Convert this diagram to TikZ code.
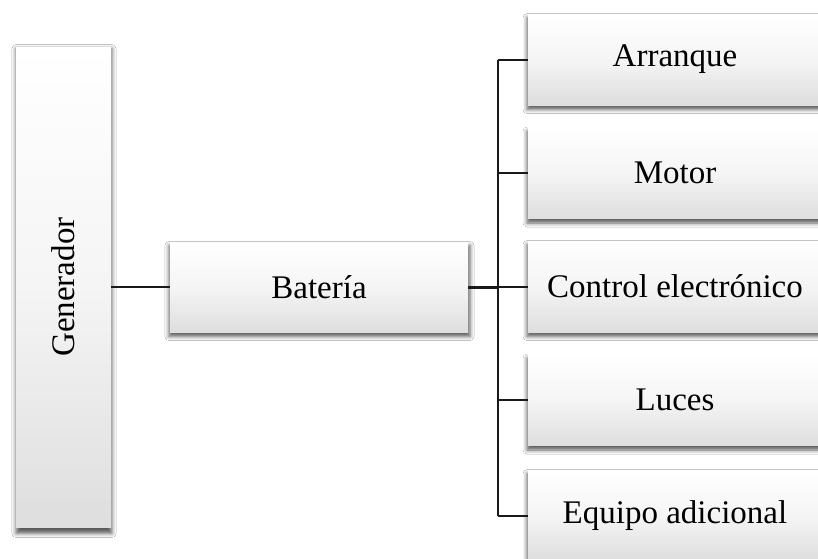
\documentclass[tikz,border=0pt]{standalone}
\usepackage{fontspec}
\setmainfont{Liberation Serif}
\usetikzlibrary{shadows.blur}
\begin{document}
\begin{tikzpicture}[x=1pt,y=-1pt,
  boxstyle/.style={rectangle, inner sep=0pt, outer sep=0pt,
    top color=white, bottom color=black!13, middle color=white!96!black,
    blur shadow={shadow xshift=0.5pt, shadow yshift=-4pt, shadow blur radius=4pt, shadow opacity=65, shadow scale=1.01},
    font=\fontsize{33}{38}\selectfont},
  conn/.style={draw=black!90, line width=2pt}]
\useasboundingbox (0,0) rectangle (818,558);
\clip (0,0) rectangle (818,558);
\fill[white] (0,0) rectangle (818,558);
\node[boxstyle, minimum width=95pt, minimum height=480pt] (gen) at (63.5,287) {\rotatebox{90}{Generador}};
\node[boxstyle, minimum width=298pt, minimum height=90pt] (bat) at (319,287) {Batería};
\node[boxstyle, minimum width=294pt, minimum height=91pt] (b1) at (675,59.5) {Arranque};
\node[boxstyle, minimum width=294pt, minimum height=91pt] (b2) at (675,173) {Motor};
\node[boxstyle, minimum width=294pt, minimum height=91pt] (b3) at (675,286.5) {Control electrónico};
\node[boxstyle, minimum width=294pt, minimum height=91pt] (b4) at (675,400) {Luces};
\node[boxstyle, minimum width=294pt, minimum height=91pt] (b5) at (675,515.5) {Equipo adicional};
\coordinate (bus) at (498,287);
\draw[conn] (gen.east) -- (bat.west);
\draw[conn, line width=3pt] (bat.east) -- (bus);
\draw[conn] (b1.west -| bus) -- (b5.west -| bus);
\foreach \b in {b1,b2,b3,b4,b5}{
  \draw[conn] (\b.west) -- (\b.west -| bus);
}
\end{tikzpicture}
\end{document}
